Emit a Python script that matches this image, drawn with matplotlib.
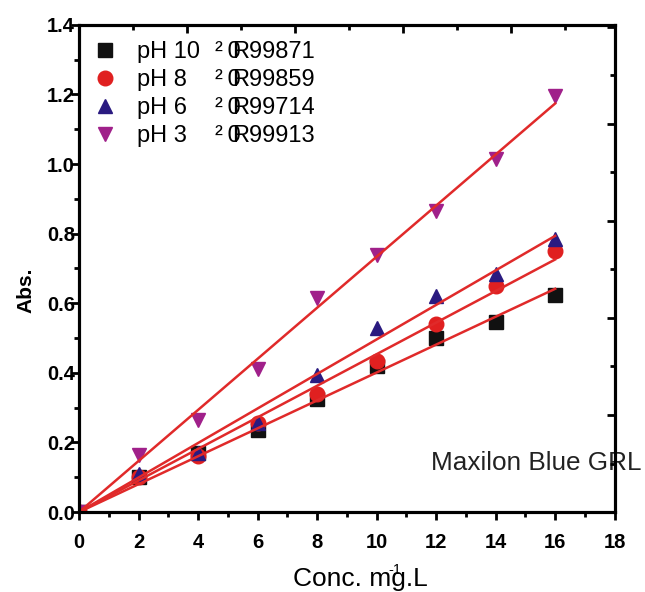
import numpy as np
import matplotlib
matplotlib.use("Agg")
import matplotlib.pyplot as plt
from matplotlib.ticker import MultipleLocator, FormatStrFormatter

plt.rcParams['font.family'] = ['Liberation Sans', 'DejaVu Sans']

# concentrations (mg/L)
conc = [0, 2, 4, 6, 8, 10, 12, 14, 16]

# absorbance
abs_ph10 = [0.0, 0.10, 0.17, 0.235, 0.325, 0.42, 0.50, 0.545, 0.625]
abs_ph8 = [0.0, 0.10, 0.16, 0.255, 0.34, 0.435, 0.54, 0.65, 0.75]
abs_ph6 = [0.0, 0.11, 0.17, 0.255, 0.395, 0.53, 0.62, 0.685, 0.785]
abs_ph3 = [0.0, 0.165, 0.265, 0.41, 0.615, 0.74, 0.865, 1.015, 1.195]

labels = ['pH 10', 'pH 8', 'pH 6', 'pH 3']
r2_digits = ['99871', '99859', '99714', '99913']
markers = ['s', 'o', '^', 'v']
colors = ['#111111', '#e02020', '#2a1a80', '#a0208a']

fit_color = '#e02a2a'


def fit_origin(x, y):
    # least squares slope through the origin
    x = np.asarray(x, float)
    y = np.asarray(y, float)
    return (x * y).sum() / (x * x).sum()


fig = plt.figure(figsize=(6.45, 5.92), dpi=100)
ax = fig.add_axes([0.1225, 0.135, 0.8305, 0.823])

series = [abs_ph10, abs_ph8, abs_ph6, abs_ph3]
handles = []
for ys, m, c, lab in zip(series, markers, colors, labels):
    h, = ax.plot(conc, ys, linestyle='none', marker=m, color=c,
                 markersize=10.5, label=lab, zorder=3)
    handles.append(h)
    k = fit_origin(conc, ys)
    xf = np.array([conc[0], conc[-1]])
    ax.plot(xf, k * xf, color=fit_color, lw=1.8, zorder=4)

ax.set_xlim(0, 18)
ax.set_ylim(0, 1.4)
ax.xaxis.set_major_locator(MultipleLocator(2))
ax.xaxis.set_minor_locator(MultipleLocator(1))
ax.yaxis.set_major_locator(MultipleLocator(0.2))
ax.yaxis.set_minor_locator(MultipleLocator(0.1))
ax.yaxis.set_major_formatter(FormatStrFormatter('%.1f'))

for sp in ax.spines.values():
    sp.set_linewidth(2.2)

ax.tick_params(which='major', direction='out', length=6, width=2,
               labelsize=14.5)
ax.tick_params(axis='x', which='major', pad=9)
ax.tick_params(axis='y', which='major', pad=-3)
ax.tick_params(which='minor', direction='out', length=3.5, width=2)
for t in ax.get_xticklabels() + ax.get_yticklabels():
    t.set_fontweight('bold')

# top and right axes carry their own inward ticks
top = ax.twiny()
top.set_xlim(0, 4.96)
top.xaxis.set_major_locator(MultipleLocator(1))
top.xaxis.set_minor_locator(MultipleLocator(0.5))
top.tick_params(which='major', direction='in', length=6, width=2, labeltop=False)
top.tick_params(which='minor', direction='in', length=3.5, width=2)

right = ax.twinx()
right.set_ylim(0, 1.004)
right.yaxis.set_major_locator(MultipleLocator(0.2))
right.yaxis.set_minor_locator(MultipleLocator(0.1))
right.tick_params(which='major', direction='in', length=6, width=2, labelright=False)
right.tick_params(which='minor', direction='in', length=3.5, width=2)
for a in (top, right):
    for sp in a.spines.values():
        sp.set_linewidth(2.2)

ax.set_ylabel('Abs.', fontsize=15, fontweight='bold')
ax.yaxis.set_label_coords(-0.081, 0.456)
ax.set_xlabel('Conc. mg.L', fontsize=19)
ax.xaxis.set_label_coords(0.526, -0.113)
ax.text(0.590, -0.119, '-1', transform=ax.transAxes, fontsize=10.5,
        ha='center', va='center')

# legend: markers + pH, then the R^2 column in two overlapping pieces
leg_kw = dict(loc='upper left', frameon=False, fontsize=17,
              labelspacing=0.25, borderpad=0, borderaxespad=0)
leg1 = ax.legend(handles=handles, labels=labels,
                 bbox_to_anchor=(0.0223, 0.966),
                 handlelength=1.2, handletextpad=0.76, **leg_kw)
ax.add_artist(leg1)

blank = [plt.Line2D([], [], linestyle='none') for _ in labels]
leg2 = ax.legend(handles=blank, labels=['\u00b2\u20090'] * len(labels),
                 bbox_to_anchor=(0.254, 0.966),
                 handlelength=0, handletextpad=0, **leg_kw)
ax.add_artist(leg2)
ax.legend(handles=blank, labels=['R' + s for s in r2_digits],
          bbox_to_anchor=(0.285, 0.966),
          handlelength=0, handletextpad=0, **leg_kw)

ax.text(0.657, 0.10, 'Maxilon Blue GRL', transform=ax.transAxes,
        fontsize=18.8, ha='left', va='center', color='#222222')

fig.savefig('out.png', dpi=100)
